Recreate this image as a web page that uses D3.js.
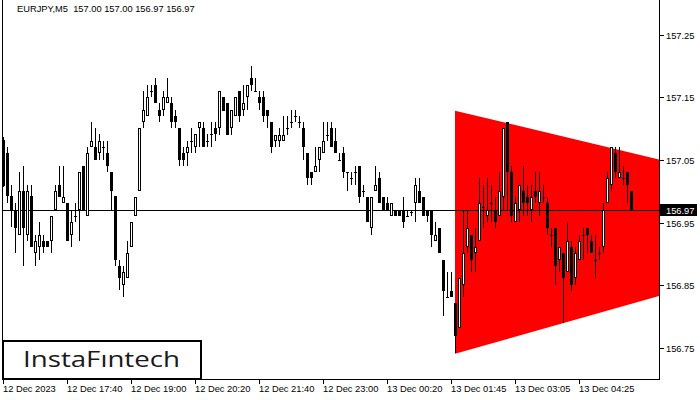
<!DOCTYPE html>
<html><head><meta charset="utf-8">
<script src="https://cdn.jsdelivr.net/npm/d3@7"></script>
<style>html,body{margin:0;padding:0;background:#fff;overflow:hidden}</style>
</head><body>
<svg id="c" width="700" height="400"></svg>
<script>
const title = "EURJPY,M5  157.00 157.00 156.97 156.97";
const opens = [157.082,157.061,156.992,156.970,156.930,157.000,156.930,156.992,156.901,156.911,156.920,156.920,156.920,156.970,157.010,156.981,156.981,156.930,156.961,156.970,157.041,156.961,157.071,157.071,157.061,157.071,157.061,157.031,156.992,156.880,156.850,156.861,156.911,156.961,157.001,157.111,157.121,157.160,157.170,157.130,157.130,157.141,157.141,157.121,157.101,157.061,157.061,157.081,157.071,157.101,157.101,157.081,157.091,157.101,157.101,157.151,157.141,157.101,157.121,157.161,157.130,157.151,157.181,157.161,157.151,157.151,157.130,157.111,157.081,157.081,157.081,157.101,157.111,157.121,157.111,157.101,157.061,157.031,157.031,157.050,157.061,157.090,157.101,157.081,157.050,157.061,157.031,157.021,157.031,157.041,157.001,156.991,156.941,157.001,157.021,156.991,156.981,156.961,156.970,156.970,156.970,156.961,156.966,156.981,157.001,156.991,156.970,156.970,156.920,156.941,156.890,156.831,156.840,156.821,156.781,156.850,156.911,156.930,156.901,156.920,156.975,156.961,156.981,156.970,156.961,156.991,157.111,157.031,156.951,156.970,157.001,156.991,156.970,157.001,156.981,156.991,156.981,156.930,156.941,156.890,156.901,156.871,156.911,156.861,156.890,156.930,156.941,156.920,156.890,156.901,156.911,156.981,157.010,157.061,157.021,157.021,157.031,157.000];
const highs = [157.086,157.071,157.010,156.981,157.031,157.041,157.010,157.010,156.930,156.951,156.930,156.920,156.961,157.010,157.041,157.041,156.981,156.970,156.981,157.031,157.041,157.071,157.111,157.101,157.091,157.081,157.081,157.031,156.992,156.890,156.880,156.920,156.951,156.991,157.101,157.160,157.170,157.170,157.181,157.141,157.160,157.181,157.151,157.130,157.101,157.071,157.081,157.101,157.091,157.111,157.111,157.091,157.111,157.111,157.161,157.151,157.141,157.130,157.151,157.161,157.170,157.170,157.201,157.181,157.161,157.161,157.130,157.111,157.090,157.101,157.121,157.121,157.130,157.130,157.121,157.111,157.061,157.031,157.071,157.071,157.111,157.111,157.111,157.101,157.061,157.071,157.031,157.031,157.041,157.041,157.010,156.991,156.991,157.041,157.031,156.991,156.991,156.981,156.970,156.970,156.991,156.970,156.970,157.021,157.021,156.991,156.970,156.970,156.951,156.941,156.890,156.871,156.871,156.821,156.861,156.970,156.970,156.930,156.941,157.021,157.010,157.021,157.010,156.991,157.031,157.101,157.111,157.041,156.991,157.010,157.041,157.010,157.010,157.031,157.031,157.010,156.991,156.941,156.941,156.911,156.901,156.951,156.920,156.911,156.930,156.941,156.941,156.930,156.930,156.911,156.981,157.031,157.071,157.071,157.071,157.041,157.031,157.000];
const lows = [157.006,156.981,156.942,156.901,156.930,156.880,156.920,156.911,156.880,156.890,156.901,156.911,156.901,156.970,156.991,156.981,156.920,156.911,156.951,156.920,156.970,156.961,157.071,157.050,157.050,157.050,157.031,156.970,156.880,156.842,156.831,156.861,156.911,156.961,157.001,157.101,157.121,157.151,157.141,157.111,157.121,157.141,157.101,157.101,157.041,157.041,157.041,157.061,157.061,157.071,157.071,157.071,157.071,157.081,157.090,157.129,157.090,157.090,157.121,157.111,157.121,157.130,157.161,157.161,157.130,157.111,157.101,157.061,157.071,157.071,157.081,157.090,157.101,157.111,157.101,157.050,157.010,157.010,157.031,157.031,157.061,157.081,157.071,157.061,157.050,157.021,157.001,157.010,157.010,156.981,156.991,156.951,156.930,157.001,156.981,156.970,156.970,156.961,156.961,156.961,156.941,156.961,156.961,156.951,156.981,156.961,156.951,156.911,156.920,156.901,156.800,156.831,156.831,156.741,156.781,156.831,156.901,156.871,156.871,156.920,156.941,156.951,156.951,156.941,156.961,156.970,156.970,156.951,156.951,156.951,156.961,156.961,156.951,156.981,156.961,156.981,156.930,156.911,156.850,156.871,156.789,156.871,156.840,156.850,156.890,156.890,156.901,156.901,156.861,156.890,156.901,156.981,157.001,157.021,157.021,157.010,156.981,156.970];
const closes = [157.009,156.992,156.970,156.941,157.000,156.941,157.000,156.911,156.920,156.930,156.911,156.911,156.961,157.000,156.991,156.991,156.920,156.951,156.961,157.031,156.970,157.061,157.081,157.050,157.081,157.071,157.041,157.000,156.890,156.861,156.871,156.901,156.951,156.991,157.101,157.130,157.151,157.160,157.141,157.121,157.151,157.151,157.111,157.111,157.050,157.050,157.071,157.081,157.091,157.111,157.071,157.081,157.091,157.091,157.161,157.129,157.090,157.130,157.151,157.121,157.141,157.170,157.170,157.161,157.141,157.121,157.121,157.071,157.090,157.090,157.090,157.101,157.111,157.121,157.111,157.071,157.021,157.021,157.041,157.071,157.081,157.090,157.071,157.061,157.050,157.031,157.031,157.021,157.031,156.991,157.001,156.951,156.991,157.010,156.981,156.970,156.970,156.981,156.961,156.961,156.951,156.961,156.966,157.010,156.981,156.961,156.961,156.930,156.930,156.901,156.840,156.831,156.831,156.769,156.861,156.901,156.941,156.890,156.911,156.981,156.975,156.970,156.981,156.951,157.001,157.101,157.031,156.961,156.981,157.010,156.981,156.981,156.991,156.991,157.001,156.991,156.941,156.930,156.880,156.911,156.861,156.920,156.850,156.901,156.920,156.930,156.930,156.901,156.890,156.901,156.970,157.021,157.071,157.031,157.031,157.021,157.010,156.970];
const priceTicks = [156.75, 156.85, 156.95, 157.05, 157.15, 157.25];
const timeTickIdx = [0, 16, 32, 48, 64, 80, 96, 112, 128, 144];
const timeTickLabels = ["12 Dec 2023","12 Dec 17:40","12 Dec 19:00","12 Dec 20:20","12 Dec 21:40","12 Dec 23:00","13 Dec 00:20","13 Dec 01:45","13 Dec 03:05","13 Dec 04:25"];
const patternIdx = [113, 164];
const patternTop = [157.129, 157.0505];
const patternBottom = [156.740, 156.8325];
const currentPrice = 156.97;
const currentLabel = "156.97";
const logoText = "InstaF\u0131ntech";

const svg = d3.select("#c");
const W = 700, H = 400;
const frame = {l: 2, r: 659, t: 0, b: 379};
const x = d3.scaleLinear().domain([0, 157]).range([3.5, 631.5]);
const y = d3.scaleLinear().domain([156.75, 157.25]).range([347.5, 35]);
const font = "'Liberation Sans', Arial, sans-serif";

svg.append("rect").attr("width", W).attr("height", H).attr("fill", "#fff");
svg.append("defs").append("clipPath").attr("id", "clip")
  .append("rect").attr("x", frame.l).attr("y", frame.t).attr("width", frame.r - frame.l).attr("height", frame.b - frame.t);

const plot = svg.append("g").attr("clip-path", "url(#clip)");

// pattern polygon
const pts = [
  [x(patternIdx[0]) - 0.5, y(patternTop[0])],
  [x(patternIdx[1]), y(patternTop[1])],
  [x(patternIdx[1]), y(patternBottom[1])],
  [x(patternIdx[0]) - 0.5, y(patternBottom[0])]
];
plot.append("polygon").attr("points", pts.map(p => p.join(",")).join(" ")).attr("fill", "#ff0000");

// current price line
plot.append("line").attr("x1", frame.l).attr("x2", frame.r)
  .attr("y1", Math.round(y(currentPrice)) + 0.5).attr("y2", Math.round(y(currentPrice)) + 0.5)
  .attr("stroke", "#000").attr("stroke-width", 1);

// candles
const data = opens.map((o, i) => ({i, o, h: highs[i], l: lows[i], c: closes[i]}));
const g = plot.append("g");
data.forEach(d => {
  const cx = x(d.i);
  const yh = Math.round(y(d.h)), yl = Math.round(y(d.l));
  const yo = Math.round(y(d.o)), yc = Math.round(y(d.c));
  g.append("line").attr("x1", cx).attr("x2", cx).attr("y1", yh).attr("y2", Math.max(yl, yh + 1))
    .attr("stroke", "#000").attr("stroke-width", 1);
  const top = Math.min(yo, yc), bot = Math.max(yo, yc);
  if (d.c > d.o && bot - top >= 2) {
    g.append("rect").attr("x", cx - 1).attr("y", top + 0.5).attr("width", 2).attr("height", bot - top - 1)
      .attr("fill", "#fff").attr("stroke", "#000").attr("stroke-width", 1);
  } else if (d.c === d.o || bot - top < 1) {
    g.append("rect").attr("x", cx - 1.5).attr("y", top).attr("width", 3).attr("height", 1).attr("fill", "#000");
  } else {
    g.append("rect").attr("x", cx - 1.5).attr("y", top).attr("width", 3).attr("height", bot - top).attr("fill", "#000");
  }
});

// frame
svg.append("line").attr("x1", frame.l + 0.5).attr("x2", frame.l + 0.5).attr("y1", 0).attr("y2", frame.b + 1).attr("stroke", "#000");
svg.append("line").attr("x1", frame.r + 0.5).attr("x2", frame.r + 0.5).attr("y1", 0).attr("y2", frame.b + 1).attr("stroke", "#000");
svg.append("line").attr("x1", frame.l).attr("x2", frame.r + 1).attr("y1", frame.b + 0.5).attr("y2", frame.b + 0.5).attr("stroke", "#000");

// right price axis
const ra = svg.append("g");
priceTicks.forEach(p => {
  const yy = Math.round(y(p)) + 0.5;
  ra.append("line").attr("x1", frame.r + 1).attr("x2", frame.r + 5).attr("y1", yy).attr("y2", yy).attr("stroke", "#000");
  ra.append("text").attr("x", 666).attr("y", yy + 3.5).attr("font-family", font).attr("font-size", 9.3)
    .attr("fill", "#000").text(p.toFixed(2));
});
// current price label
const cy = Math.round(y(currentPrice));
ra.append("rect").attr("x", frame.r + 1).attr("y", cy - 6).attr("width", 37).attr("height", 12).attr("fill", "#000");
ra.append("text").attr("x", 666).attr("y", cy + 4).attr("font-family", font).attr("font-size", 9.3)
  .attr("fill", "#fff").text(currentLabel);

// bottom time axis
const ba = svg.append("g");
timeTickIdx.forEach((idx, k) => {
  const xx = Math.floor(x(idx)) + 0.5;
  ba.append("line").attr("x1", xx).attr("x2", xx).attr("y1", frame.b + 1).attr("y2", frame.b + 5).attr("stroke", "#000");
  ba.append("text").attr("x", xx - 0.5).attr("y", 392).attr("font-family", font).attr("font-size", 9.3)
    .attr("fill", "#000").text(timeTickLabels[k]);
});

// title
svg.append("text").attr("x", 17).attr("y", 12).attr("font-family", font).attr("font-size", 9.3)
  .attr("fill", "#000").style("white-space", "pre").attr("xml:space", "preserve").text(title);

// logo
svg.append("rect").attr("x", 3).attr("y", 341).attr("width", 198).attr("height", 38)
  .attr("fill", "#fff").attr("stroke", "#000").attr("stroke-width", 2);
svg.append("text").attr("x", 23).attr("y", 367).attr("font-family", "'Open Sans', sans-serif")
  .attr("font-size", 22).attr("font-weight", 500).attr("fill", "#1a1a1a")
  .attr("textLength", 157).attr("lengthAdjust", "spacingAndGlyphs").text(logoText);
</script>
</body></html>
